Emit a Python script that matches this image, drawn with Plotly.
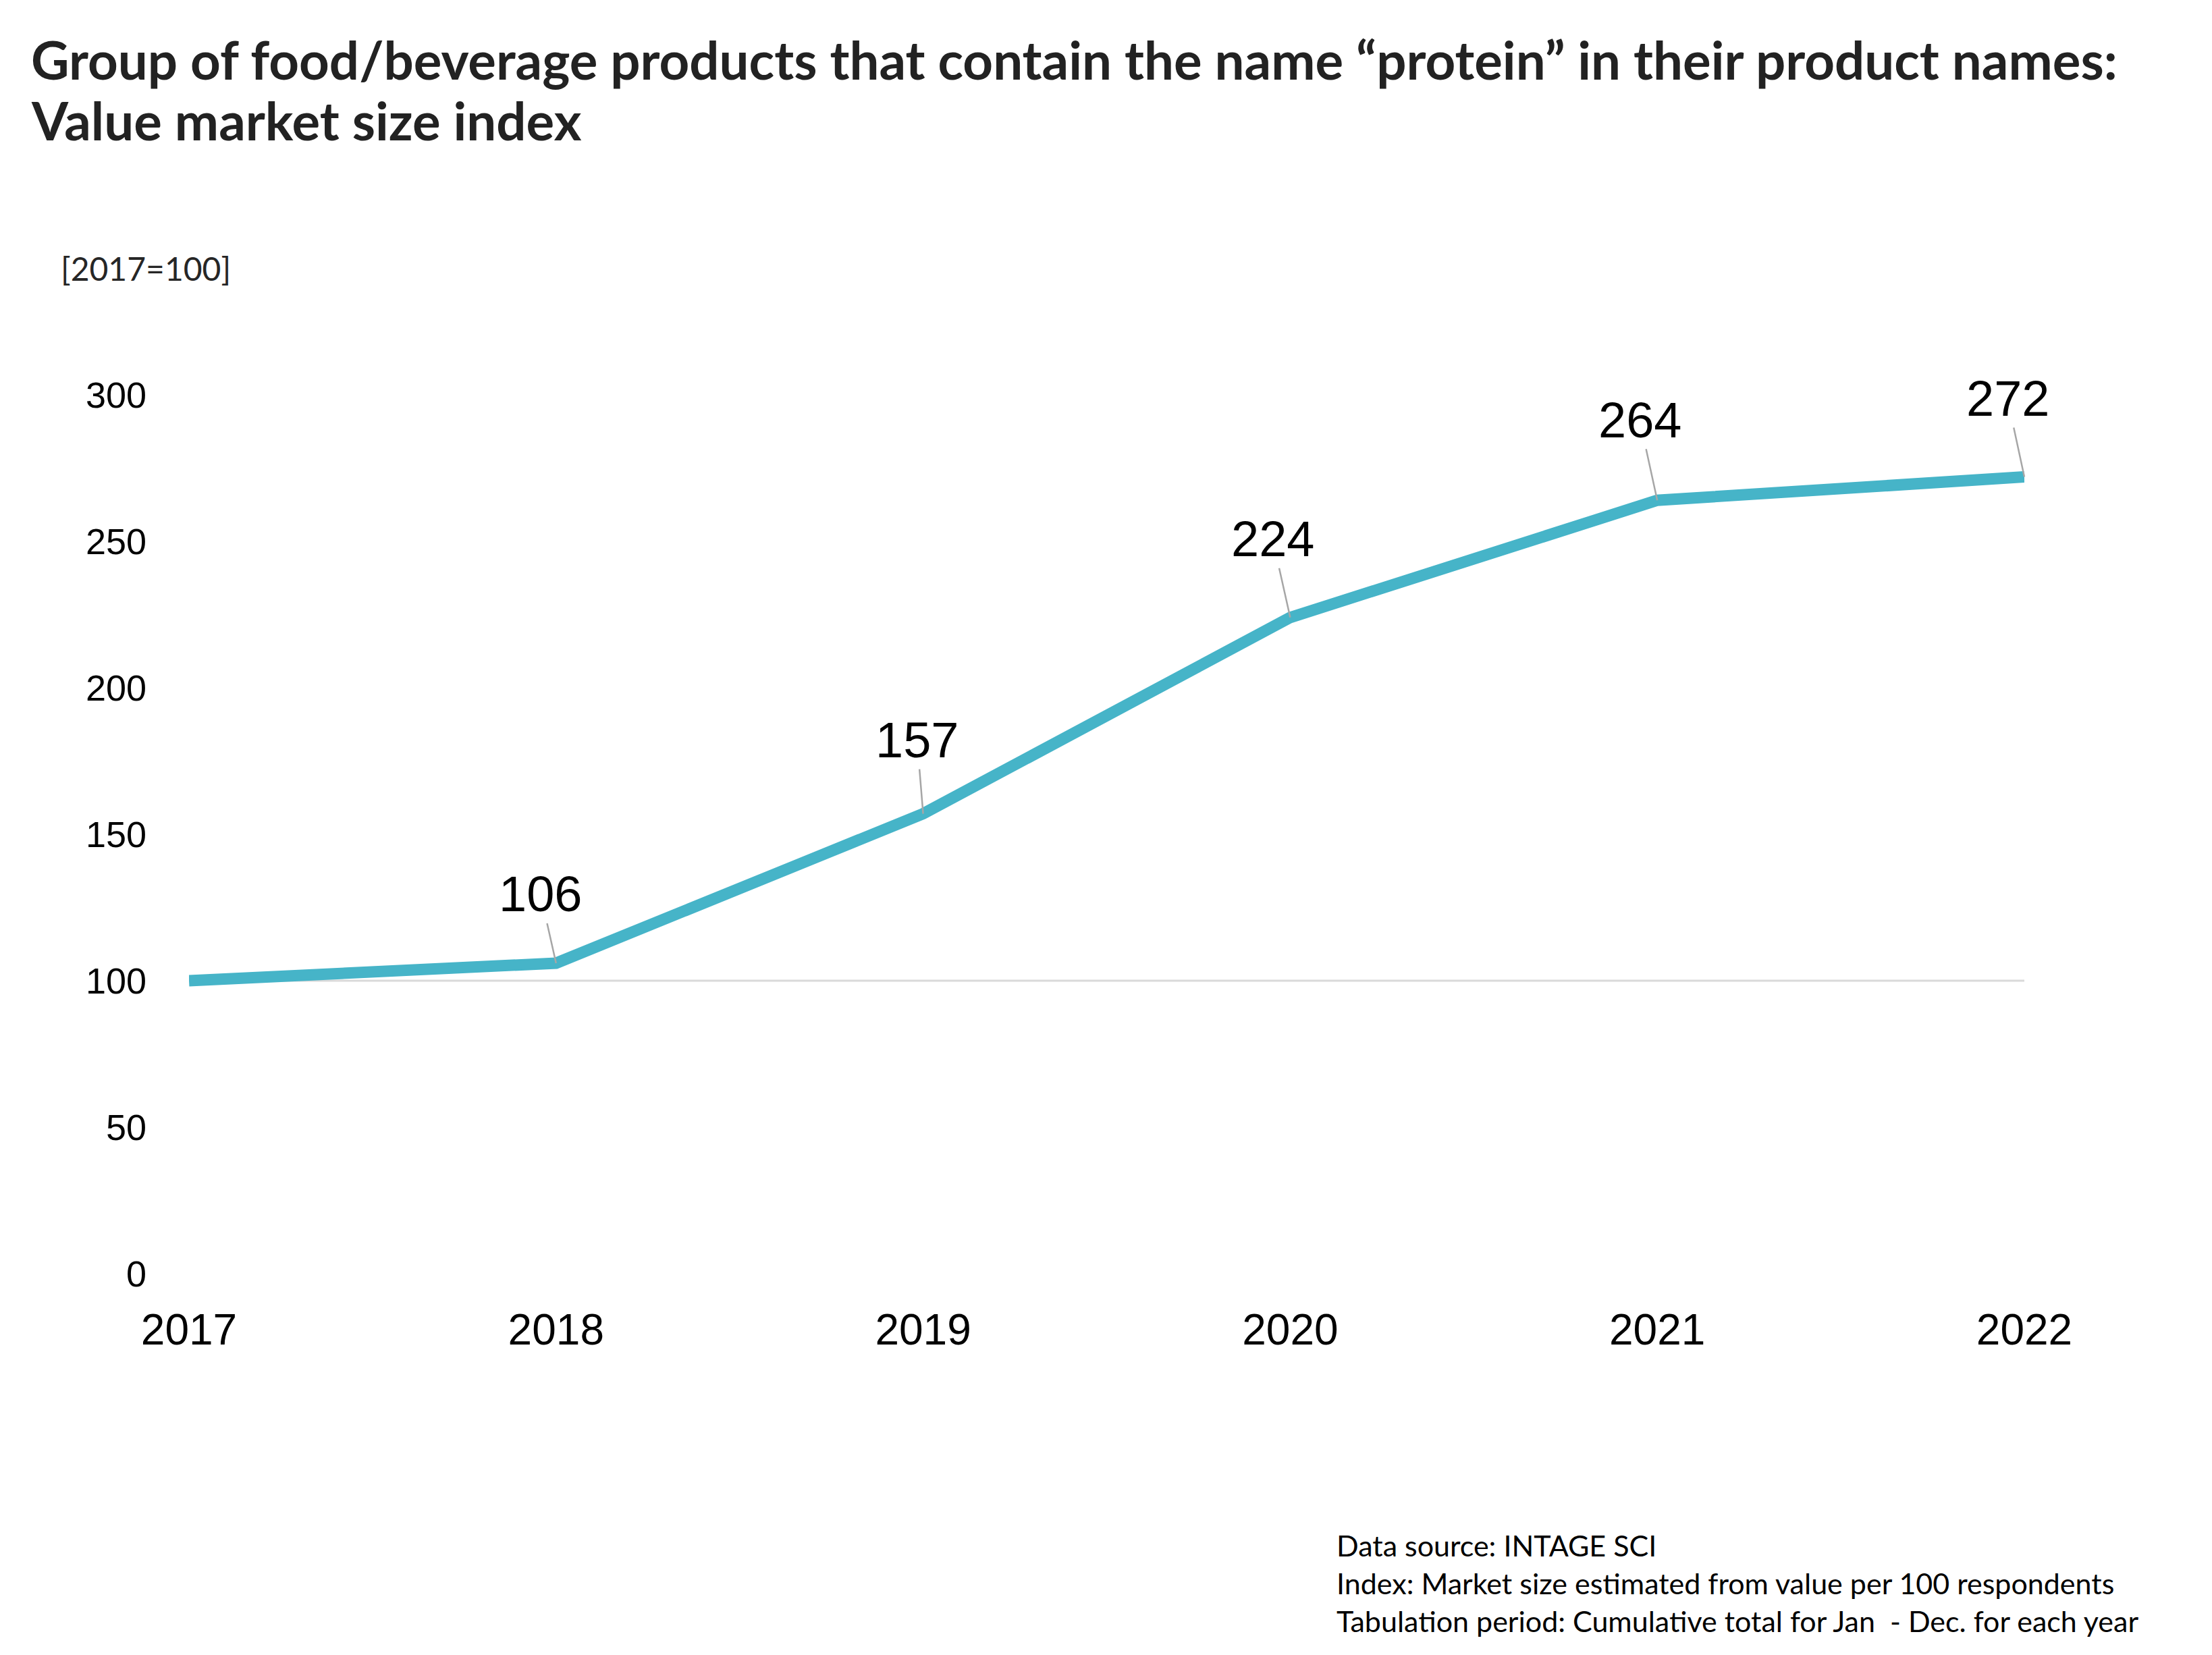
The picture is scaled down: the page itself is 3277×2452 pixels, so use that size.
import plotly.graph_objects as go

years = ["2017", "2018", "2019", "2020", "2021", "2022"]
index_values = [100, 106, 157, 224, 264, 272]
labeled_years = ["2018", "2019", "2020", "2021", "2022"]
labeled_values = [106, 157, 224, 264, 272]
y_ticks = [0, 50, 100, 150, 200, 250, 300]

title_lines = [
    "Group of food/beverage products that contain the name \u201cprotein\u201d in their product names:",
    "Value market size index",
]
unit_label = "[2017=100]"
footnotes = [
    "Data source: INTAGE SCI",
    "Index: Market size estimated from value per 100 respondents",
    "Tabulation period: Cumulative total for Jan\u00a0 - Dec. for each year",
]
baseline_value = 100

# styling: pixel offsets of each data label from its point (leader lines)
label_dx = [-23, -9, -26, -26, -25]
label_dy = [-102, -109, -116, -119, -116]

W, H = 3277, 2452
L, R, T, B = 280, 2999, 585, 1887  # plot area in px

fig = go.Figure()
fig.add_trace(go.Scatter(
    x=years, y=index_values, mode="lines",
    line=dict(color="#46B4C8", width=17),
    hoverinfo="skip", showlegend=False,
))

# reference line at the base value (category axis -> use category indices)
fig.add_shape(type="line", xref="x", yref="y",
              x0=0, x1=len(years) - 1, y0=baseline_value, y1=baseline_value,
              line=dict(color="#d9d9d9", width=3), layer="below")

for yr, v, dx, dy in zip(labeled_years, labeled_values, label_dx, label_dy):
    fig.add_annotation(
        x=years.index(yr), y=v, text=str(v), showarrow=True, arrowhead=0,
        arrowwidth=2.5, arrowcolor="#a6a6a6", ax=dx, ay=dy,
        standoff=0, font=dict(family="Liberation Sans, Arial", size=74, color="#000000"),
    )

def px_x(px):
    return (px - L) / (R - L)

def px_y(py):
    return (B - py) / (B - T)

title_centers = [88, 178]
for line, cy in zip(title_lines, title_centers):
    fig.add_annotation(
        xref="paper", yref="paper", x=px_x(44), y=px_y(cy),
        xanchor="left", yanchor="middle", showarrow=False, text=line,
        font=dict(family="Lato", size=78, color="#222222", weight="bold"),
    )

fig.add_annotation(
    xref="paper", yref="paper", x=px_x(88), y=px_y(397),
    xanchor="left", yanchor="middle", showarrow=False, text=unit_label,
    font=dict(family="Lato", size=48, color="#262626"),
)

fig.add_annotation(
    xref="paper", yref="paper", x=px_x(1978), y=px_y(2262),
    xanchor="left", yanchor="top", align="left", showarrow=False,
    text="<br>".join(footnotes),
    font=dict(family="Lato", size=43, color="#000000"),
)

fig.update_layout(
    width=W, height=H,
    paper_bgcolor="white", plot_bgcolor="white",
    margin=dict(l=L, r=W - R, t=T, b=H - B, pad=0),
    xaxis=dict(
        type="category", range=[0, len(years) - 1],
        showgrid=False, zeroline=False, showline=False, ticks="",
        tickfont=dict(family="Liberation Sans, Arial", size=64, color="#000000"),
        ticklabelstandoff=40,
    ),
    yaxis=dict(
        range=[0, 300], tickvals=y_ticks,
        showgrid=False, zeroline=False, showline=False, ticks="",
        tickfont=dict(family="Liberation Sans, Arial", size=54, color="#000000"),
        ticklabelstandoff=62,
    ),
)

fig.write_html("out.html")
